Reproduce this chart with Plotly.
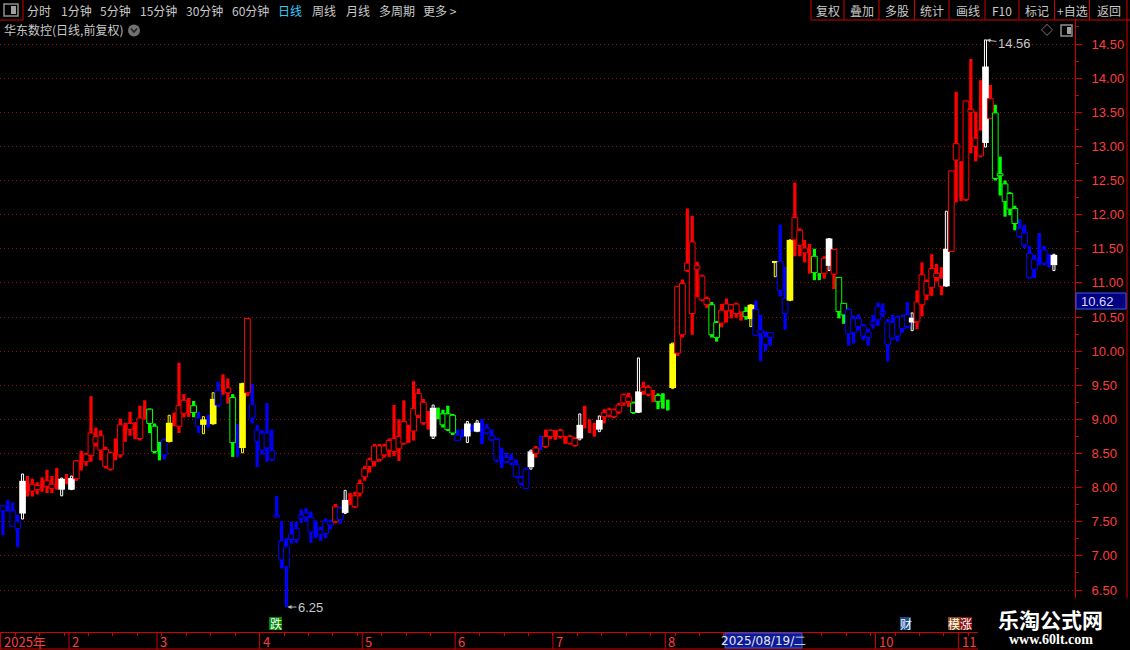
import plotly.graph_objects as go

# ---------------- data: daily candles (华东数控, 2025) ----------------
opens = [
    7.66, 7.73, 7.43, 7.40, 7.62, 8.10, 7.95, 7.97, 8.10, 8.02,
    7.99, 8.15, 7.97, 8.15, 7.97, 8.13, 8.50, 8.38, 8.47, 8.65,
    8.55, 8.31, 8.27, 8.70, 8.48, 8.90, 8.85, 8.94, 8.72, 9.16,
    8.94, 8.53, 8.51, 8.48, 8.67, 9.05, 8.90, 9.09, 9.31, 9.10,
    8.90, 8.92, 9.06, 8.93, 9.21, 9.60, 9.39, 8.66, 8.93, 8.58,
    9.39, 9.02, 8.68, 8.55, 8.58, 8.41, 7.57, 6.94, 6.84, 7.24,
    7.24, 7.55, 7.57, 7.35, 7.50, 7.31, 7.33, 7.45, 7.50, 7.53,
    7.63, 7.92, 7.72, 7.92, 8.16, 8.31, 8.38, 8.41, 8.48, 8.55,
    8.53, 8.57, 8.65, 8.92, 8.83, 9.06, 8.95, 9.12, 8.75, 9.17,
    8.92, 8.85, 8.80, 8.69, 8.85, 8.75, 8.90, 8.82, 9.00, 8.80,
    8.70, 8.40, 8.58, 8.38, 8.36, 8.16, 8.06, 7.99, 8.30, 8.50,
    8.75, 8.60, 8.75, 8.84, 8.75, 8.75, 8.65, 8.62, 8.72, 9.19,
    8.99, 8.94, 8.85, 9.04, 9.06, 9.04, 9.11, 9.24, 9.26, 9.10,
    9.10, 9.41, 9.37, 9.43, 9.26, 9.38, 9.28, 9.46, 9.97, 10.24,
    11.18, 10.55, 11.20, 10.75, 10.68, 10.24, 10.20, 10.41, 10.59, 10.60,
    10.55, 10.58, 10.505, 10.47, 10.23, 10.26, 10.10, 10.20, 11.30, 10.89,
    10.55, 10.74, 11.63, 11.55, 11.44, 11.57, 11.15, 11.14, 11.14, 11.25,
    11.13, 10.58, 10.53, 10.26, 10.27, 10.36, 10.22, 10.20, 10.38, 10.46,
    10.55, 10.10, 10.19, 10.22, 10.33, 10.36, 10.42, 10.43, 10.68, 10.82,
    10.93, 11.08, 10.95, 10.95, 11.46, 12.80, 12.78, 12.22, 13.50, 13.00,
    12.86, 13.05, 13.41, 12.53, 12.57, 12.19, 12.08, 11.87, 11.68, 11.555,
    11.08, 11.20, 11.73, 11.29, 11.42, 11.26,
]
highs = [
    7.74, 7.82, 7.78, 7.60, 8.20, 8.17, 8.13, 8.08, 8.15, 8.26,
    8.17, 8.29, 8.14, 8.20, 8.17, 8.40, 8.54, 8.51, 9.34, 8.88,
    8.84, 8.60, 8.53, 8.72, 9.01, 8.95, 9.11, 8.96, 9.20, 9.28,
    9.16, 8.94, 8.67, 8.72, 9.06, 9.10, 9.83, 9.37, 9.31, 9.27,
    9.11, 9.04, 9.07, 9.39, 9.55, 9.66, 9.60, 9.37, 8.93, 9.53,
    10.48, 9.52, 8.92, 8.84, 9.24, 8.85, 7.88, 7.51, 7.26, 7.50,
    7.50, 7.68, 7.70, 7.65, 7.52, 7.43, 7.55, 7.53, 7.76, 7.72,
    7.96, 7.92, 7.94, 8.12, 8.32, 8.44, 8.64, 8.64, 8.64, 8.72,
    9.21, 9.00, 9.28, 8.92, 9.56, 9.45, 9.30, 9.12, 9.21, 9.17,
    9.14, 9.20, 9.08, 8.85, 8.86, 8.97, 8.92, 8.98, 9.00, 8.93,
    8.85, 8.73, 8.58, 8.51, 8.50, 8.41, 8.17, 8.29, 8.55, 8.61,
    8.76, 8.85, 8.85, 8.84, 8.86, 8.76, 8.77, 8.74, 9.08, 9.20,
    9.00, 8.95, 9.05, 9.15, 9.17, 9.16, 9.24, 9.38, 9.39, 9.26,
    9.90, 9.55, 9.50, 9.43, 9.38, 9.38, 9.29, 10.12, 10.95, 11.05,
    12.09, 11.98, 11.31, 11.12, 10.80, 10.72, 10.44, 10.69, 10.77, 10.69,
    10.71, 10.58, 10.65, 10.68, 10.74, 10.53, 10.29, 10.28, 11.31, 11.85,
    11.24, 11.63, 12.47, 11.80, 11.63, 11.57, 11.50, 11.14, 11.39, 11.65,
    11.49, 11.08, 10.70, 10.63, 10.52, 10.54, 10.40, 10.33, 10.53, 10.71,
    10.70, 10.47, 10.53, 10.52, 10.53, 10.72, 10.56, 10.89, 11.30, 11.05,
    11.42, 11.28, 11.23, 12.05, 12.64, 13.80, 12.78, 13.67, 14.28, 13.51,
    13.97, 14.56, 13.90, 13.61, 12.85, 12.50, 12.33, 12.13, 11.93, 11.85,
    11.54, 11.41, 11.73, 11.54, 11.42, 11.42,
]
lows = [
    7.30, 7.65, 7.43, 7.13, 7.54, 7.87, 7.87, 7.90, 7.94, 7.92,
    7.92, 7.97, 7.88, 8.05, 7.97, 8.10, 8.25, 8.32, 8.38, 8.60,
    8.40, 8.28, 8.25, 8.40, 8.44, 8.67, 8.76, 8.71, 8.69, 9.00,
    8.80, 8.50, 8.40, 8.41, 8.67, 8.90, 8.80, 9.03, 9.04, 9.03,
    8.80, 8.79, 8.88, 8.93, 9.18, 9.36, 9.23, 8.45, 8.45, 8.51,
    9.34, 8.94, 8.30, 8.48, 8.38, 8.39, 7.56, 6.82, 6.25, 7.18,
    7.19, 7.48, 7.50, 7.19, 7.26, 7.22, 7.26, 7.39, 7.48, 7.47,
    7.62, 7.75, 7.70, 7.87, 8.10, 8.22, 8.31, 8.38, 8.44, 8.45,
    8.46, 8.39, 8.63, 8.66, 8.69, 9.02, 8.92, 8.85, 8.72, 9.00,
    8.88, 8.83, 8.77, 8.69, 8.74, 8.66, 8.82, 8.82, 8.64, 8.78,
    8.68, 8.37, 8.29, 8.36, 8.33, 8.14, 8.03, 7.98, 8.27, 8.44,
    8.55, 8.58, 8.71, 8.70, 8.72, 8.64, 8.63, 8.60, 8.70, 8.87,
    8.80, 8.75, 8.82, 8.94, 9.03, 9.02, 9.08, 9.20, 9.18, 9.08,
    9.10, 9.36, 9.34, 9.26, 9.15, 9.16, 9.13, 9.45, 9.93, 10.20,
    11.16, 10.24, 10.79, 10.73, 10.63, 10.20, 10.14, 10.35, 10.42, 10.48,
    10.49, 10.45, 10.46, 10.36, 10.22, 9.85, 10.00, 10.08, 11.09, 10.80,
    10.31, 10.74, 11.39, 11.39, 11.30, 11.14, 11.04, 11.04, 11.06, 11.18,
    10.91, 10.48, 10.40, 10.08, 10.11, 10.30, 10.16, 10.08, 10.33, 10.37,
    10.50, 9.85, 10.17, 10.14, 10.27, 10.33, 10.30, 10.32, 10.51, 10.75,
    10.81, 11.02, 10.82, 10.95, 11.46, 12.18, 12.20, 12.20, 12.90, 12.78,
    12.84, 12.99, 13.40, 12.50, 12.28, 11.97, 11.99, 11.77, 11.66, 11.51,
    11.06, 11.07, 11.26, 11.26, 11.23, 11.18,
]
closes = [
    7.73, 7.66, 7.66, 7.50, 8.10, 7.97, 8.05, 8.03, 8.00, 8.10,
    8.05, 8.03, 8.13, 8.08, 8.14, 8.39, 8.28, 8.49, 8.80, 8.75,
    8.76, 8.56, 8.51, 8.45, 8.92, 8.78, 8.94, 8.75, 9.02, 9.05,
    9.15, 8.90, 8.48, 8.70, 8.95, 8.95, 9.20, 9.28, 9.04, 9.20,
    9.02, 9.00, 8.88, 9.30, 9.42, 9.40, 9.46, 9.32, 8.60, 9.53,
    10.48, 9.22, 8.84, 8.80, 8.80, 8.54, 7.60, 7.22, 7.14, 7.32,
    7.40, 7.60, 7.63, 7.56, 7.28, 7.38, 7.51, 7.50, 7.72, 7.70,
    7.82, 7.75, 7.88, 8.06, 8.28, 8.41, 8.61, 8.61, 8.61, 8.69,
    8.72, 8.75, 8.97, 8.66, 9.16, 9.38, 9.25, 8.86, 9.17, 9.07,
    9.08, 9.08, 9.06, 8.77, 8.75, 8.94, 8.84, 8.95, 8.64, 8.87,
    8.76, 8.71, 8.29, 8.44, 8.41, 8.34, 8.15, 8.27, 8.53, 8.58,
    8.60, 8.75, 8.84, 8.71, 8.84, 8.66, 8.75, 8.72, 8.92, 8.87,
    8.82, 8.75, 8.99, 9.10, 9.14, 9.14, 9.21, 9.36, 9.33, 9.24,
    9.41, 9.47, 9.47, 9.26, 9.35, 9.16, 9.14, 10.11, 10.95, 10.99,
    11.29, 11.60, 11.25, 11.10, 10.77, 10.68, 10.42, 10.60, 10.69, 10.68,
    10.69, 10.45, 10.58, 10.68, 10.61, 10.31, 10.21, 10.275, 11.31, 11.31,
    10.77, 11.63, 11.96, 11.77, 11.51, 11.14, 11.39, 11.10, 11.36, 11.65,
    11.49, 11.08, 10.70, 10.61, 10.48, 10.48, 10.37, 10.28, 10.43, 10.65,
    10.58, 10.43, 10.42, 10.50, 10.51, 10.54, 10.49, 10.72, 11.12, 11.02,
    11.21, 11.14, 11.07, 11.50, 12.64, 13.04, 12.24, 13.665, 13.54, 13.12,
    13.24, 14.17, 13.70, 13.49, 12.60, 12.45, 12.31, 12.09, 11.80, 11.73,
    11.43, 11.345, 11.26, 11.48, 11.23, 11.41,
]
# indicator state of each bar: R=red, B=blue, G=green, Y=yellow, W=white
tags = list(
    "BBBBWRRRRR" "RRWRWRRRRR" "RRRRRRRRRR" "GGGBYRRRRG" "BYBYBRRGBY"
    "RBBBBBBBBB" "BBBBBBBBRB" "WRRRRRRRRR" "RRRRRRRRWG" "GGGBBWBWBB"
    "BBBBBBBBWR" "BRRRRRRRWR" "RRWRRRRRRG" "WRRRGGGYRR" "RRRRRGGRRR"
    "RRGYBBBBYB" "BYRRRRGGRW" "RGGBBBBBBB" "BBBBBBWRRR" "RRRWRRRRRR"
    "RWRGGGGGBB" "BBBBBW"
)
# month labels: (first bar index of month, label)
month_starts = [0, 14, 32, 53, 74, 93, 113, 136, 179, 196]
month_labels = ["2025年", "2", "3", "4", "5", "6", "7", "8", "10", "11"]
price_ticks = [6.5, 7.0, 7.5, 8.0, 8.5, 9.0, 9.5, 10.0, 10.5, 11.0, 11.5, 12.0, 12.5, 13.0, 13.5, 14.0, 14.5]
left_menu = ["分时", "1分钟", "5分钟", "15分钟", "30分钟", "60分钟", "日线", "周线", "月线", "多周期", "更多 >"]
right_menu = ["复权", "叠加", "多股", "统计", "画线", "F10", "标记", "+自选", "返回"]

# ---------------- styling ----------------
COLORS = {'R': '#FF0000', 'B': '#0000FF', 'G': '#00FF00', 'Y': '#FFFF00', 'W': '#FFFFFF'}
AXIS_RED = '#D00000'
LABEL_RED = '#FF3C3C'
GRAY = '#C8C8C8'
CJK = 'Noto Sans CJK SC'

n = len(closes)
idx = list(range(n))

wk_base, wk_h, wk_fill, wk_line, wk_lw, wk_w = [], [], [], [], [], []
bd_base, bd_h, bd_fill, bd_line, bd_lw, bd_w = [], [], [], [], [], []
for i in idx:
    t = tags[i]
    col = COLORS[t]
    o, h, l, c = opens[i], highs[i], lows[i], closes[i]
    wk_base.append(l)
    wk_h.append(max(h - l, 0.01))
    if t in 'WY':
        wk_fill.append('#000000'); wk_line.append(col); wk_lw.append(1); wk_w.append(0.42)
    else:
        wk_fill.append(col); wk_line.append(col); wk_lw.append(0); wk_w.append(0.66)
    top, bot = max(o, c), min(o, c)
    hh = max(top - bot, 0.015)
    bd_base.append(bot)
    bd_h.append(hh)
    if t in 'WY':
        bd_fill.append(col); bd_line.append(col); bd_lw.append(0); bd_w.append(1.36)
    elif c > o:
        bd_fill.append('#000000'); bd_line.append(col); bd_lw.append(1); bd_w.append(1.18)
    else:
        bd_fill.append(col); bd_line.append(col); bd_lw.append(0); bd_w.append(0.66)

fig = go.Figure()
fig.add_trace(go.Bar(x=idx, y=wk_h, base=wk_base, width=wk_w,
                     marker=dict(color=wk_fill, line=dict(color=wk_line, width=wk_lw)),
                     hoverinfo='skip', showlegend=False))
fig.add_trace(go.Bar(x=idx, y=bd_h, base=bd_base, width=bd_w,
                     marker=dict(color=bd_fill, line=dict(color=bd_line, width=bd_lw)),
                     hoverinfo='skip', showlegend=False))

# ---------------- geometry helpers (pixels -> paper) ----------------
W, H = 1130, 650
PL, PR, PT, PB = 0, 1075, 19, 632
X0, DX = 3.0, 4.888          # pixel of bar 0, pixels per bar


def fx(p):
    return (p - PL) / (PR - PL)


def fy(p):
    return (PB - p) / (PB - PT)


def pprice(ypix):
    return 14.5 - (ypix - 44) / 68.25


shapes = []
ann = []


def hline(x0, x1, y, color=AXIS_RED, width=1, layer='above'):
    shapes.append(dict(type='line', xref='paper', yref='paper', x0=fx(x0), x1=fx(x1), y0=fy(y), y1=fy(y),
                       line=dict(color=color, width=width), layer=layer))


def vline(x, y0, y1, color=AXIS_RED, width=1, layer='above'):
    shapes.append(dict(type='line', xref='paper', yref='paper', x0=fx(x), x1=fx(x), y0=fy(y0), y1=fy(y1),
                       line=dict(color=color, width=width), layer=layer))


def rect(x0, y0, x1, y1, fill, line=None, lw=1, layer='above'):
    shapes.append(dict(type='rect', xref='paper', yref='paper', x0=fx(x0), x1=fx(x1), y0=fy(y1), y1=fy(y0),
                       fillcolor=fill, line=dict(color=line or fill, width=lw if line else 0), layer=layer))


def text(x, y, s, color=GRAY, size=12, anchor='center', family=CJK, bold=False):
    if bold:
        s = '<b>' + s + '</b>'
    ann.append(dict(xref='paper', yref='paper', x=fx(x), y=fy(y), text=s, showarrow=False,
                    xanchor=anchor, yanchor='middle', font=dict(color=color, size=size, family=family)))


# ---- top toolbar ----
vline(23, 0, 20)
hline(0, 23, 20)
rect(4, 4, 18, 16, '#000000', '#909090', 1.5)
rect(11, 6, 16, 14, '#A0A0A0')
left_x = [39, 76, 115.5, 158, 204.5, 250, 290, 324, 357.5, 396.5, 439.5]
for s, x in zip(left_menu, left_x):
    text(x, 10.5, s, color='#33CCFF' if s == '日线' else GRAY, size=12)
for x in [811, 844, 879, 914.5, 949, 985, 1019, 1054.5, 1089.5, 1127]:
    vline(x, 0, 20)
hline(811, 1130, 20)
right_x = [827.5, 862, 897, 932, 967.5, 1002, 1037, 1072.5, 1108.5]
for s, x in zip(right_menu, right_x):
    text(x, 10.5, s, size=12)

# ---- title row ----
text(2, 30, "华东数控(日线,前复权)", anchor='left', size=12)
shapes.append(dict(type='circle', xref='paper', yref='paper', x0=fx(128), x1=fx(140), y0=fy(36.5), y1=fy(24.5),
                   fillcolor='#707070', line=dict(width=0), layer='above'))
shapes.append(dict(type='path', xref='paper', yref='paper',
                   path=f"M {fx(131)},{fy(28.5)} L {fx(134)},{fy(32)} L {fx(137)},{fy(28.5)}",
                   line=dict(color='#202020', width=1.5), layer='above'))
text(1047, 30, "◇", color='#A0A0A0', size=12)
rect(1061, 25, 1072, 36, '#000000', '#909090', 1.5)
rect(1067, 27, 1071, 34, '#A0A0A0')

# ---- right side lines ----
vline(1127, 20, 650)
vline(1075.5, 632, 650)

# ---- bottom date axis ----
hline(0, 1127, 649)
for s0, lab in zip(month_starts, month_labels):
    xb = s0 - 0.5
    shapes.append(dict(type='line', xref='x', yref='paper', x0=xb, x1=xb, y0=fy(632), y1=fy(649),
                       line=dict(color=AXIS_RED, width=1), layer='above'))
    ann.append(dict(xref='x', yref='paper', x=xb, y=fy(641), text=lab, showarrow=False, xanchor='left',
                    yanchor='middle', xshift=1, font=dict(color=LABEL_RED, size=13, family=CJK)))

# crosshair date box
rect(725, 633, 802, 648, '#0C1C96', '#3A5AE8', 1)
text(763.5, 640.5, "2025/08/19/二", color='#E6E6E6', size=12, family='DejaVu Sans')
# crosshair price box
rect(1076, 293, 1126, 309, '#000080', '#3A5AE8', 1)
text(1079, 301, "10.62", color='#D8D8FF', size=13, anchor='left', family='Liberation Sans')

# signal boxes under the candles
rect(269, 617, 282, 630, '#008800')
text(275.5, 623.5, "跌", color='#FFFFFF', size=12)
rect(900, 617, 911, 630, '#1A4A8A')
text(905.5, 623.5, "财", color='#FFFFFF', size=12)
rect(948, 617, 960, 630, '#8A4A10')
rect(960, 617, 972, 630, '#8A1010')
text(954, 623.5, "模", color='#FFFFFF', size=12)
text(966, 623.5, "涨", color='#FFFFFF', size=12)

# extreme price markers
i_hi = highs.index(max(highs))
i_lo = lows.index(min(lows))
for xi, yv, s, axo, ayo in [(i_hi, highs[i_hi], f"{highs[i_hi]:.2f}", 29, 4),
                            (i_lo, lows[i_lo], f"{lows[i_lo]:.2f}", 24, 0)]:
    ann.append(dict(xref='x', yref='y', x=xi, y=yv, text=s, showarrow=True, ax=axo, ay=ayo,
                    arrowhead=2, arrowsize=0.8, arrowwidth=1, arrowcolor='#C0C0C0', standoff=1,
                    font=dict(color='#C8C8C8', size=13, family='Liberation Sans')))

# watermark patch
rect(978, 598, 1130, 650, '#000000')
text(1050, 619, "乐淘公式网", color='#FFFFFF', size=21, bold=True)
text(1051, 639, "www.60lt.com", color='#FFFFFF', size=14, bold=True, family='Liberation Serif')

fig.update_layout(
    width=W, height=H,
    margin=dict(l=PL, r=W - PR, t=PT, b=H - PB, pad=0),
    paper_bgcolor='#000000', plot_bgcolor='#000000',
    barmode='overlay', showlegend=False, hovermode=False,
    shapes=shapes, annotations=ann,
    font=dict(family=CJK, color=GRAY),
    xaxis=dict(range=[-X0 / DX, (PR - PL - X0) / DX], showgrid=False, zeroline=False,
               showline=True, linecolor=AXIS_RED, linewidth=1,
               ticks='outside', ticklen=3, tickcolor=AXIS_RED,
               tickvals=[k + 0.5 for k in range(2, n, 5)], showticklabels=False, fixedrange=True),
    yaxis=dict(range=[pprice(PB), pprice(PT)], side='right', zeroline=False,
               showline=True, linecolor=AXIS_RED, linewidth=1,
               tickvals=price_ticks, ticktext=[f"{v:.2f}" for v in price_ticks],
               ticks='outside', ticklen=6, tickcolor=AXIS_RED,
               tickfont=dict(color=LABEL_RED, size=13, family='Liberation Sans'),
               ticklabelstandoff=7,
               showgrid=True, gridcolor='#9A1010', gridwidth=1, griddash='1px,3px',
               minor=dict(tickvals=[v + 0.25 for v in price_ticks[:-1]] + [6.25, 14.75],
                          ticks='outside', ticklen=3, tickcolor=AXIS_RED, showgrid=False),
               fixedrange=True),
)

fig.write_html("out.html", config=dict(displayModeBar=False),
               post_script="document.body.style.margin='0px';document.body.style.padding='0px';"
                           "document.body.style.background='#000';")
